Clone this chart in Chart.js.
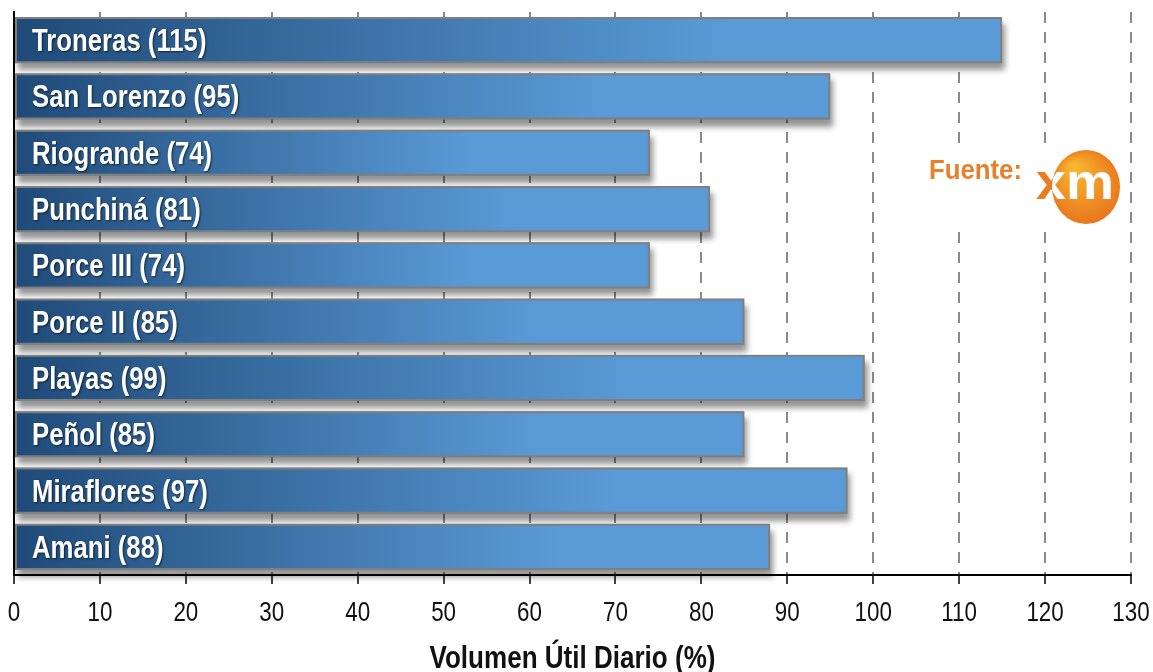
<!DOCTYPE html>
<html>
<head>
<meta charset="utf-8">
<script src="https://cdn.jsdelivr.net/npm/chart.js@4.4.1/dist/chart.umd.min.js"></script>
<style>
    html, body { margin: 0; padding: 0; background: #fff; }
    #wrap { width: 1153px; height: 672px; }
</style>
</head>
<body>
<div id="wrap"><canvas id="myChart"></canvas></div>
<script>
const embalses = ['Troneras', 'San Lorenzo', 'Riogrande', 'Punchiná', 'Porce III', 'Porce II', 'Playas', 'Peñol', 'Miraflores', 'Amani'];
const volumen = [115, 95, 74, 81, 74, 85, 99, 85, 97, 88];
const xTicks = [0, 10, 20, 30, 40, 50, 60, 70, 80, 90, 100, 110, 120, 130];
const xTitle = 'Volumen Útil Diario (%)';

const sans = "'Liberation Sans', Arial, sans-serif";

// text squeezed horizontally to look like Arial Narrow
function narrowText(ctx, text, x, y, font, scaleX, align) {
    ctx.save();
    ctx.font = font;
    const w = ctx.measureText(text).width * scaleX;
    let left = x;
    if (align === 'center') left = x - w / 2;
    else if (align === 'right') left = x - w;
    ctx.translate(left, y);
    ctx.scale(scaleX, 1);
    ctx.textAlign = 'left';
    ctx.fillText(text, 0, 0);
    ctx.restore();
}

function barGradient(context) {
    const chart = context.chart;
    const area = chart.chartArea;
    if (!area) return '#5b9bd5';
    const x = chart.scales.x;
    const x0 = x.getPixelForValue(0);
    const x1 = x.getPixelForValue(context.raw);
    const g = chart.ctx.createLinearGradient(x0, 0, x0 + (x1 - x0) * 0.72, 0);
    g.addColorStop(0, '#1f4a78');
    g.addColorStop(0.45, '#3a6fa3');
    g.addColorStop(1, '#5a9ad6');
    return g;
}

// white box with "Fuente:" and the xm logo
const fuentePlugin = {
    id: 'fuente',
    beforeDatasetsDraw(chart) {
        const ctx = chart.ctx;
        ctx.save();
        ctx.fillStyle = '#fff';
        ctx.fillRect(915, 148, 208, 78);
        ctx.restore();
    },
    afterDraw(chart) {
        const ctx = chart.ctx;
        ctx.save();
        ctx.fillStyle = '#e8802a';
        ctx.textBaseline = 'alphabetic';
        narrowText(ctx, 'Fuente:', 929, 179, "bold 28px " + sans, 0.92, 'left');

        const cx = 1086, cy = 187;
        const rg = ctx.createRadialGradient(cx - 12, cy - 20, 4, cx, cy, 40);
        rg.addColorStop(0, '#f7b52f');
        rg.addColorStop(1, '#e8731c');
        ctx.fillStyle = rg;
        ctx.beginPath();
        ctx.ellipse(cx, cy, 34, 37, 0, 0, Math.PI * 2);
        ctx.fill();

        ctx.fillStyle = '#ec7d1f';
        narrowText(ctx, 'xm', 1036, 199, "bold 50px " + sans, 1.08, 'left');
        ctx.beginPath();
        ctx.ellipse(cx, cy, 34, 37, 0, 0, Math.PI * 2);
        ctx.clip();
        ctx.fillStyle = '#fff';
        narrowText(ctx, 'xm', 1036, 199, "bold 50px " + sans, 1.08, 'left');
        ctx.restore();
    }
};

// grey drop shadow under every bar, drawn before the bars
const shadowPlugin = {
    id: 'barShadow',
    beforeDatasetsDraw(chart) {
        const ctx = chart.ctx;
        const meta = chart.getDatasetMeta(0);
        ctx.save();
        ctx.shadowColor = 'rgba(0,0,0,0.42)';
        ctx.shadowBlur = 6;
        ctx.shadowOffsetX = 3;
        ctx.shadowOffsetY = 7;
        ctx.fillStyle = '#808080';
        meta.data.forEach(bar => {
            const h = bar.height;
            ctx.fillRect(bar.base, bar.y - h / 2, bar.x - bar.base, h);
        });
        ctx.restore();
    }
};

// names inside the bars, tick labels and axis title
const labelPlugin = {
    id: 'textLabels',
    afterDatasetsDraw(chart) {
        const ctx = chart.ctx;
        const meta = chart.getDatasetMeta(0);
        const xScale = chart.scales.x;
        ctx.save();
        ctx.textBaseline = 'alphabetic';
        ctx.fillStyle = '#fff';
        ctx.shadowColor = 'rgba(0,0,0,0.6)';
        ctx.shadowBlur = 2;
        ctx.shadowOffsetX = 1;
        ctx.shadowOffsetY = 1;
        meta.data.forEach((bar, i) => {
            const text = embalses[i] + ' (' + volumen[i] + ')';
            narrowText(ctx, text, xScale.getPixelForValue(0) + 18, bar.y + 11, "bold 31px " + sans, 0.83, 'left');
        });
        ctx.restore();

        ctx.save();
        ctx.fillStyle = '#111';
        ctx.textBaseline = 'alphabetic';
        const axisY = chart.chartArea.bottom;
        xTicks.forEach(v => {
            narrowText(ctx, String(v), xScale.getPixelForValue(v), axisY + 46, "28px " + sans, 0.8, 'center');
        });
        const mid = (chart.chartArea.left + chart.chartArea.right) / 2;
        narrowText(ctx, xTitle, mid, 668, "bold 31px " + sans, 0.84, 'center');
        ctx.restore();
    }
};

document.addEventListener('DOMContentLoaded', function () {
    const ctx = document.getElementById('myChart').getContext('2d');
    new Chart(ctx, {
        type: 'bar',
        data: {
            labels: embalses,
            datasets: [{
                data: volumen,
                backgroundColor: barGradient,
                borderColor: '#7f7f7f',
                borderWidth: 2,
                borderSkipped: false,
                barPercentage: 0.82,
                categoryPercentage: 1
            }]
        },
        options: {
            indexAxis: 'y',
            responsive: true,
            maintainAspectRatio: false,
            animation: false,
            layout: { padding: { left: 14, right: 22, top: 12, bottom: 88 } },
            plugins: {
                legend: { display: false },
                tooltip: { enabled: false }
            },
            scales: {
                x: {
                    type: 'linear',
                    min: 0,
                    max: 130,
                    afterBuildTicks: (axis) => { axis.ticks = xTicks.map(v => ({ value: v })); },
                    grid: {
                        color: '#8a8a8a',
                        lineWidth: 2,
                        tickColor: '#000',
                        tickBorderDash: [],
                        tickWidth: 1.5,
                        tickLength: 9
                    },
                    border: { display: true, color: '#000', width: 2, dash: [11, 9] },
                    ticks: { display: false }
                },
                y: {
                    grid: { display: false, drawTicks: false },
                    border: { display: true, color: '#000', width: 2 },
                    ticks: { display: false }
                }
            }
        },
        plugins: [fuentePlugin, shadowPlugin, labelPlugin]
    });
});
</script>
</body>
</html>
